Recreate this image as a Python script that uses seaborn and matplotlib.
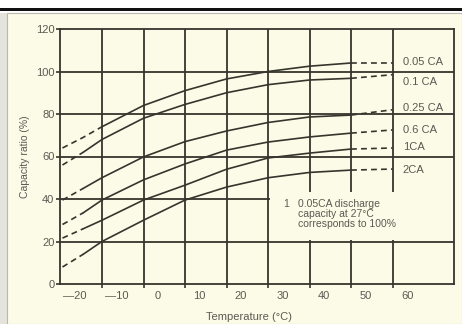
import numpy as np
import pandas as pd
import matplotlib
matplotlib.use("Agg")
import matplotlib.pyplot as plt
import matplotlib.patches as mpatches
import seaborn as sns

# donnees
temps = [-23, -18, -13.5, -3.5, 6.5, 16.5, 26.5, 36.5, 46.5, 56.5]
cap_005 = [64, 69, 74, 84, 91, 96.5, 100, 102.5, 104, 104]
cap_01 = [56, 62, 68, 78, 84.5, 90, 93.8, 96, 96.8, 98.5]
cap_025 = [39.5, 45, 50, 59.8, 67, 72, 76, 78.6, 79.5, 82]
cap_06 = [28, 33.5, 39.5, 49, 56.5, 63, 66.8, 69.2, 71, 72.5]
cap_1 = [21.6, 26, 30, 39.5, 46.5, 54, 59.3, 61.6, 63.5, 64]
cap_2 = [8, 14, 20, 30, 39.5, 45.6, 50, 52.5, 53.6, 54.1]
curve_names = ["0.05 CA", "0.1 CA", "0.25 CA", "0.6 CA", "1CA", "2CA"]

x_labels = ["\u201420", "\u201410", "0", "10", "20", "30", "40", "50", "60"]
x_label_pos = [-20, -10, 0, 10, 20, 30, 40, 50, 60]
y_ticks = [0, 20, 40, 60, 80, 100, 120]
note = "0.05CA discharge\ncapacity at 27\u00b0C\ncorresponds to 100%"

# style
BG = "#fbfbe8"
INK = "#35352d"
TXT = "#5a5a52"
grid_x = [-13.4 + 10 * k for k in range(8)]
left_dash = [2, 1, 1, 1, 1, 1]
label_shift = [0.5, -3.5, 0.8, 0.0, 0.5, -0.5]

sns.set_theme(style="white")
plt.rcParams["font.family"] = ["Liberation Sans", "DejaVu Sans"]

fig = plt.figure(figsize=(4.62, 3.24), dpi=100)
fig.patch.set_facecolor("white")
W, H = 462.0, 324.0
# cadre de fond
fig.patches.append(mpatches.Rectangle((0, 0), 7 / W, 311 / H, transform=fig.transFigure,
                                      facecolor="#e4e4dc", edgecolor="none", zorder=-10))
fig.patches.append(mpatches.Rectangle((7 / W, 0), 455 / W, 311 / H, transform=fig.transFigure,
                                      facecolor=BG, edgecolor="#b8b8b0", linewidth=0.8, zorder=-10))
fig.patches.append(mpatches.Rectangle((0, 313 / H), 1, 3 / H, transform=fig.transFigure,
                                      facecolor="#111111", edgecolor="none", zorder=-10))

ax = fig.add_axes([60 / W, 40 / H, 394 / W, 255 / H])
ax.set_facecolor(BG)
ax.set_xlim(-23.6, 71.3)
ax.set_ylim(0, 120)

for gx in grid_x:
    ax.axvline(gx, color=INK, lw=1.3, zorder=1)
for gy in y_ticks[1:-1]:
    ax.axhline(gy, color=INK, lw=1.3, zorder=1)

# encart de la note
ax.add_patch(mpatches.Rectangle((26.9, 20.6), 44.4, 22.8, facecolor=BG, edgecolor="none", zorder=2))
ax.text(30.1, 39.8, "1", fontsize=7.5, color=TXT, va="top", zorder=4)
ax.text(33.7, 39.8, note, fontsize=7.5, color=TXT, va="top", linespacing=1.0, zorder=4)

series = [cap_005, cap_01, cap_025, cap_06, cap_1, cap_2]
for vals, name, nl, dy in zip(series, curve_names, left_dash, label_shift):
    df = pd.DataFrame({"t": temps, "c": vals})
    parts = [(df.iloc[:nl + 1], (0, (3.5, 2.5))),
             (df.iloc[nl:-1], "-"),
             (df.iloc[-2:], (0, (3.5, 2.5)))]
    for part, ls in parts:
        sns.lineplot(data=part, x="t", y="c", ax=ax, color=INK, lw=1.2,
                     linestyle=ls, sort=False, estimator=None, zorder=3)
    ax.text(59, vals[-1] + dy, name, fontsize=8, color=TXT, va="center", zorder=4)

for s in ax.spines.values():
    s.set_color(INK)
    s.set_linewidth(1.3)

ax.set_xticks(grid_x)
ax.set_xticklabels([""] * len(grid_x))
ax.set_xticks(x_label_pos, minor=True)
ax.set_xticklabels(x_labels, minor=True)
ax.tick_params(axis="x", which="major", length=3, width=1.2, color=INK, direction="out", bottom=True)
ax.tick_params(axis="x", which="minor", length=0, pad=5, labelsize=8, labelcolor=TXT, bottom=True)
ax.set_yticks(y_ticks)
ax.set_yticklabels([str(v) for v in y_ticks])
ax.tick_params(axis="y", length=3, width=1.2, color=INK, direction="out", pad=1,
               labelsize=8, labelcolor=TXT, left=True)

ax.set_xlabel("Temperature (\u00b0C)", fontsize=8, color=TXT, labelpad=4)
ax.set_ylabel("Capacity ratio (%)", fontsize=7.5, color=TXT, labelpad=4)
ax.xaxis.set_label_coords(0.48, -0.11)
ax.yaxis.set_label_coords(-0.075, 0.5)
if ax.get_legend() is not None:
    ax.get_legend().remove()

fig.savefig("out.png", dpi=100, facecolor=fig.get_facecolor())
